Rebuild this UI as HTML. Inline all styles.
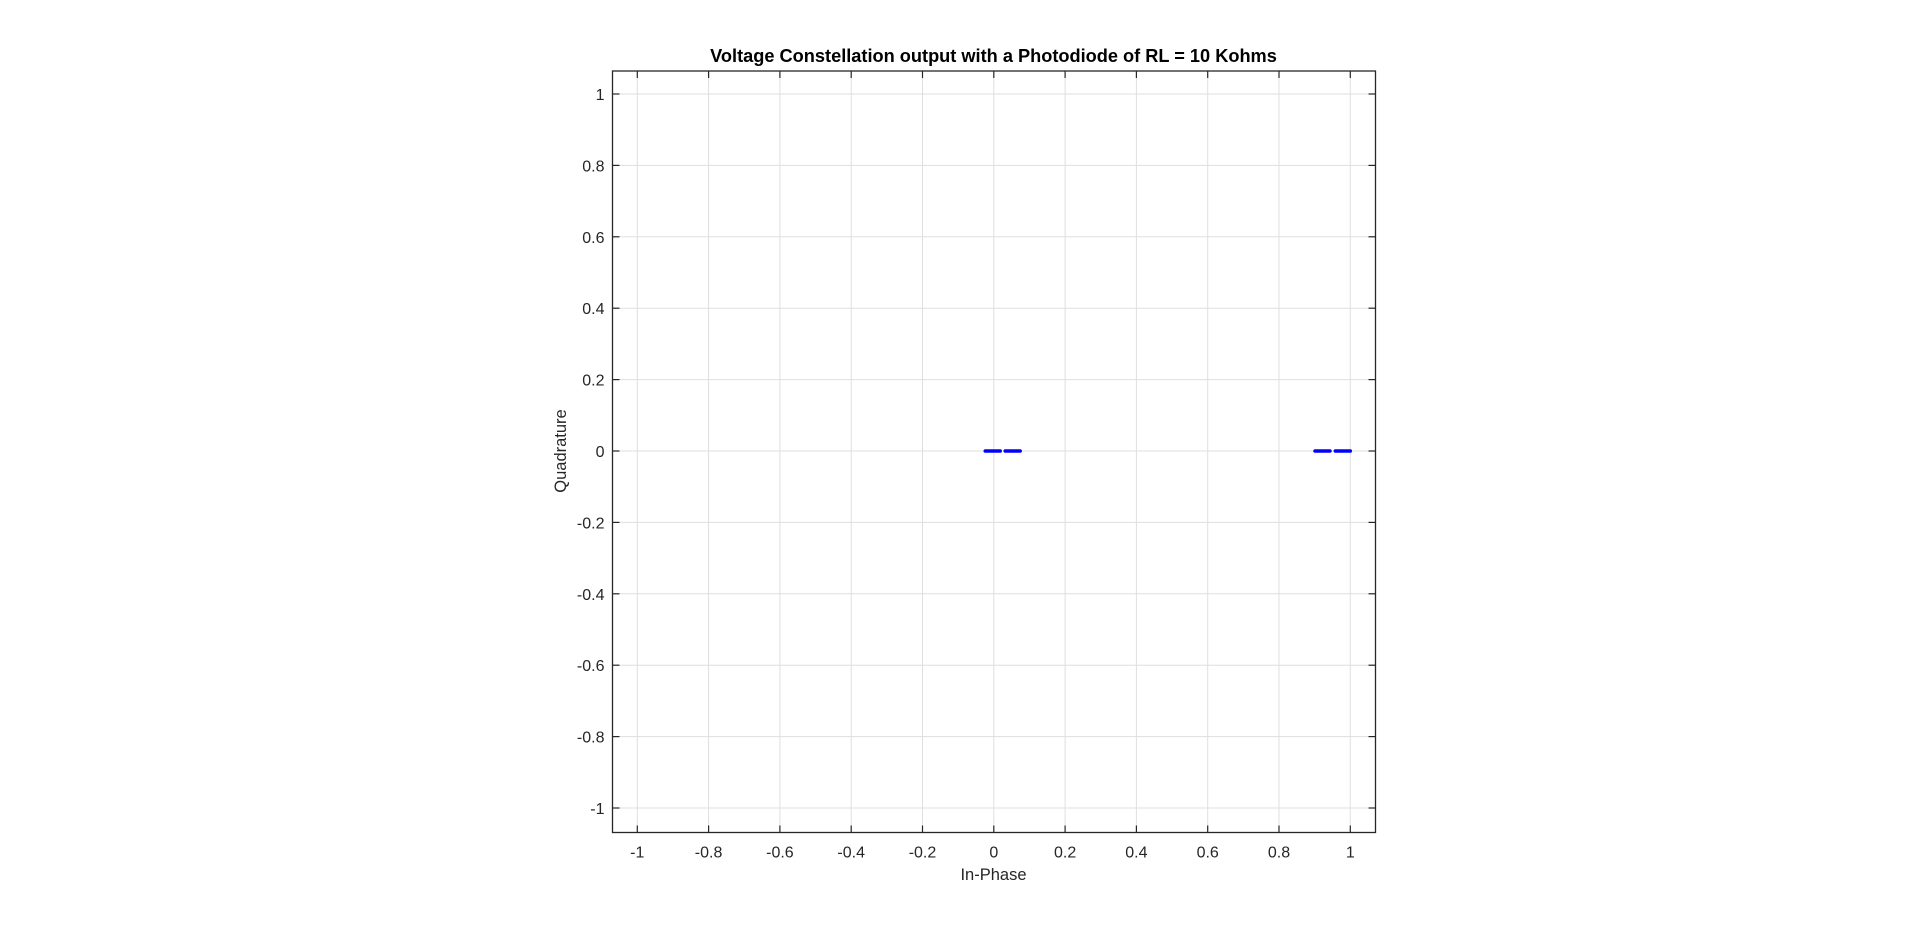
<!DOCTYPE html>
<html><head><meta charset="utf-8"><style>
html,body{margin:0;padding:0;background:#fff;}
svg{display:block;font-family:"Liberation Sans",Arial,sans-serif;}
</style></head><body>
<svg id="chart" width="1920" height="936"></svg>
<script>
const xTicks=[-1,-0.8,-0.6,-0.4,-0.2,0,0.2,0.4,0.6,0.8,1];
const yTicks=[-1,-0.8,-0.6,-0.4,-0.2,0,0.2,0.4,0.6,0.8,1];
const pointsI=[-0.003,0.053,0.922,0.979];
const pointsQ=[0,0,0,0];
const L=612.5,R=1375.5,T=71,B=832.5;
const sx=v=>993.8+v*356.5;
const sy=v=>451+v*-357;
const svg=document.getElementById('chart');
const NS='http://www.w3.org/2000/svg';
function mk(tag,attrs,parent){const e=document.createElementNS(NS,tag);for(const k in attrs)e.setAttribute(k,attrs[k]);(parent||svg).appendChild(e);return e;}
const grid=mk('g',{});


xTicks.forEach(v=>{mk('line',{x1:sx(v),x2:sx(v),y1:T,y2:B,stroke:'#dfdfdf','stroke-width':1},grid);});
yTicks.forEach(v=>{mk('line',{x1:L,x2:R,y1:sy(v),y2:sy(v),stroke:'#dfdfdf','stroke-width':1},grid);});
const frame=mk('rect',{x:L,y:T,width:R-L,height:B-T,fill:'none',stroke:'#262626','stroke-width':1.3});


const xt=mk('g',{});


xTicks.forEach(v=>{
 const x=sx(v);
 mk('line',{x1:x,x2:x,y1:B,y2:B-7,stroke:'#262626','stroke-width':1.2},xt);
 mk('line',{x1:x,x2:x,y1:T,y2:T+7,stroke:'#262626','stroke-width':1.2},xt);
 const t=mk('text',{x:x,y:B+25,'text-anchor':'middle','font-size':16,fill:'#262626'},xt);
 t.textContent=String(v);
 
 
});
const yt=mk('g',{});


yTicks.forEach(v=>{
 const y=sy(v);
 mk('line',{x1:L,x2:L+7,y1:y,y2:y,stroke:'#262626','stroke-width':1.2},yt);
 mk('line',{x1:R,x2:R-7,y1:y,y2:y,stroke:'#262626','stroke-width':1.2},yt);
 const t=mk('text',{x:L-8,y:y+6,'text-anchor':'end','font-size':16,fill:'#262626'},yt);
 t.textContent=String(v);
 
 
});
const pts=mk('g',{});


pointsI.forEach((v,i)=>{
 const x=sx(v),y=sy(pointsQ[i]);
 const d=mk('line',{x1:x-7.5,x2:x+7.5,y1:y,y2:y,stroke:'#0000ff','stroke-width':3.5,'stroke-linecap':'round'},pts);
 
 
});
const title=mk('text',{x:993.5,y:62,'text-anchor':'middle','font-size':18.2,'font-weight':'bold',fill:'#000'});
title.textContent='Voltage Constellation output with a Photodiode of RL = 10 Kohms';


const xl=mk('text',{x:993.5,y:880,'text-anchor':'middle','font-size':16.5,fill:'#262626'});
xl.textContent='In-Phase';


const yl=mk('text',{x:0,y:0,'text-anchor':'middle','font-size':16.5,fill:'#262626',transform:'translate(566,451) rotate(-90)'});
yl.textContent='Quadrature';


</script>
</body></html>
